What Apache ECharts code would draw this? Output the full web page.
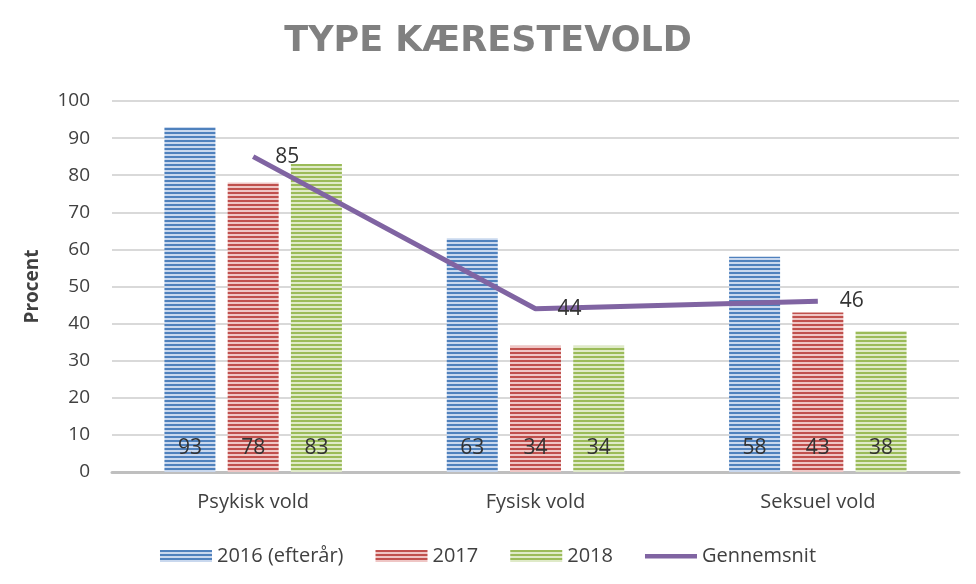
<!DOCTYPE html>
<html>
<head>
<meta charset="utf-8">
<script src="https://cdn.jsdelivr.net/npm/echarts@6/dist/echarts.min.js"></script>
<style>
  html, body { margin: 0; padding: 0; background: #fff; }
  #chart { width: 976px; height: 584px; }
</style>
</head>
<body>
<div id="chart"></div>
<script>
var categories = ['Psykisk vold', 'Fysisk vold', 'Seksuel vold'];
var values2016 = [93, 63, 58];
var values2017 = [78, 34, 43];
var values2018 = [83, 34, 38];
var average = [85, 44, 46];

// horizontal stripes like the original fill
function stripes(dark, light) {
    var c = document.createElement('canvas');
    c.width = 4;
    c.height = 4;
    var ctx = c.getContext('2d');
    ctx.fillStyle = light;
    ctx.fillRect(0, 0, 4, 4);
    ctx.fillStyle = dark;
    ctx.fillRect(0, 0, 4, 2);
    return { image: c, repeat: 'repeat' };
}

var font = 'Open Sans, sans-serif';
var chartDom = document.getElementById('chart');
var chart = echarts.init(chartDom);

var barLabel = {
    show: true,
    position: 'insideBottom',
    distance: 13,
    color: '#333333',
    fontSize: 21,
    fontFamily: font
};

var option = {
    animation: false,
    title: {
        text: 'TYPE KÆRESTEVOLD',
        left: 'center',
        top: 19,
        textStyle: {
            color: '#808080',
            fontSize: 35,
            fontWeight: 'bold',
            fontFamily: 'DejaVu Sans, sans-serif'
        }
    },
    grid: {
        left: 112,
        right: 17,
        top: 101,
        bottom: 112
    },
    legend: {
        bottom: 13,
        left: 'center',
        itemWidth: 52,
        itemHeight: 12,
        itemGap: 32,
        textStyle: { color: '#404040', fontSize: 20, fontFamily: font },
        data: [
            { name: '2016 (efterår)', icon: 'rect' },
            { name: '2017', icon: 'rect' },
            { name: '2018', icon: 'rect' },
            { name: 'Gennemsnit', icon: 'path://M0,0 M0,4 L52,4 L52,8.5 L0,8.5 Z M52,12' }
        ]
    },
    xAxis: {
        type: 'category',
        data: categories,
        axisTick: { show: false },
        axisLine: { lineStyle: { color: '#bfbfbf', width: 3 } },
        axisLabel: { color: '#404040', fontSize: 20, fontFamily: font, margin: 20 }
    },
    yAxis: {
        type: 'value',
        min: 0,
        max: 100,
        interval: 10,
        name: 'Procent',
        nameLocation: 'middle',
        nameGap: 70,
        nameTextStyle: { color: '#404040', fontSize: 19, fontWeight: 'bold', fontFamily: font },
        axisLabel: { color: '#404040', fontSize: 19, fontFamily: font, margin: 22 },
        splitLine: { lineStyle: { color: '#d9d9d9', width: 2 } },
        axisLine: { show: false },
        axisTick: { show: false }
    },
    series: [
        {
            name: '2016 (efterår)',
            type: 'bar',
            data: values2016,
            barWidth: 51,
            barGap: '24%',
            itemStyle: { color: stripes('#4f81bd', '#c9d8ee') },
            label: barLabel
        },
        {
            name: '2017',
            type: 'bar',
            data: values2017,
            barWidth: 51,
            barGap: '24%',
            itemStyle: { color: stripes('#c0504d', '#efc6c5') },
            label: barLabel
        },
        {
            name: '2018',
            type: 'bar',
            data: values2018,
            barWidth: 51,
            barGap: '24%',
            itemStyle: { color: stripes('#9bbb59', '#dfeac8') },
            label: barLabel
        },
        {
            name: 'Gennemsnit',
            type: 'line',
            data: average,
            symbol: 'circle',
            symbolSize: 0,
            lineStyle: { color: '#8064a2', width: 5 },
            itemStyle: { color: '#8064a2' },
            label: {
                show: true,
                position: 'right',
                distance: 22,
                color: '#333333',
                fontSize: 21,
                fontFamily: font
            }
        }
    ]
};

option && chart.setOption(option);
</script>
</body>
</html>
